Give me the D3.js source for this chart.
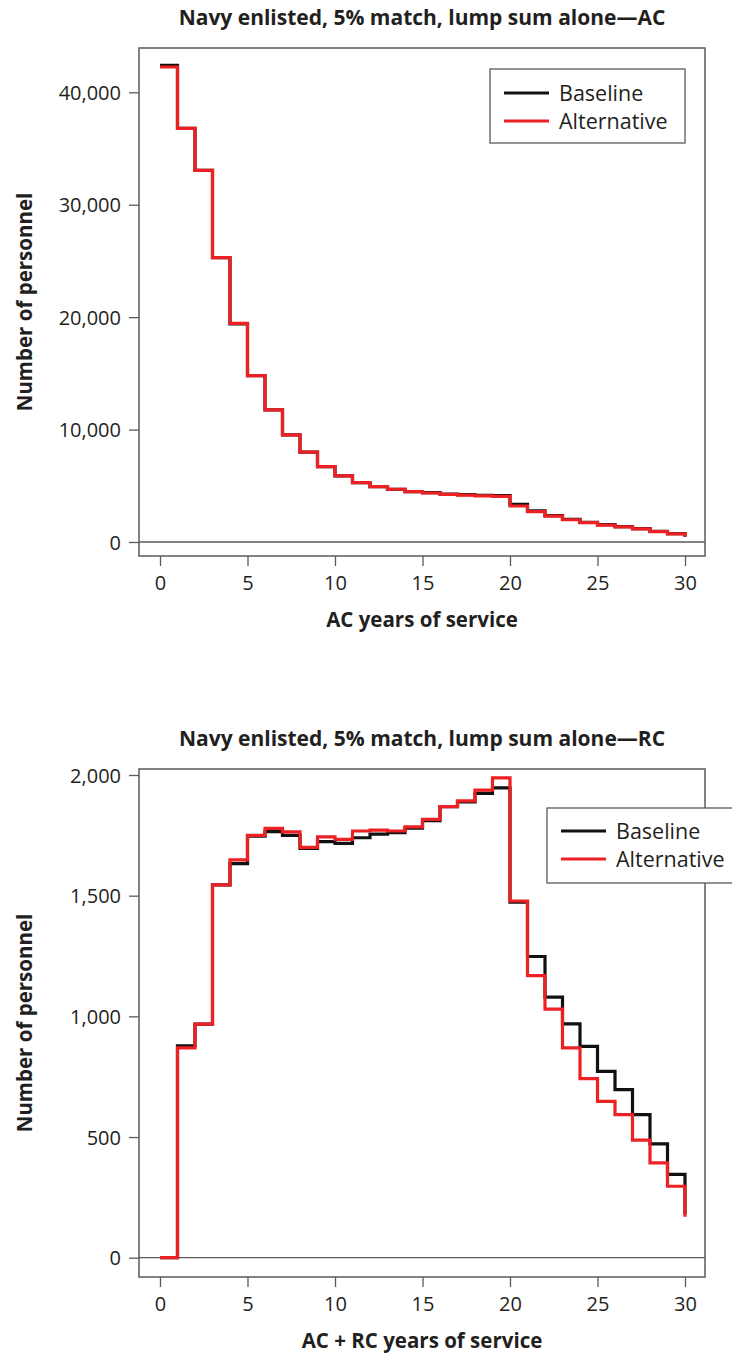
<!DOCTYPE html>
<html>
<head>
<meta charset="utf-8">
<script src="https://cdn.jsdelivr.net/npm/d3@7/dist/d3.min.js"></script>
<style>
  html, body { margin: 0; padding: 0; background: #fff; }
  svg { display: block; }
  text { fill: #231f20; font-family: "Open Sans", "Noto Sans", sans-serif; }
</style>
</head>
<body>
<svg id="chart" width="732" height="1357"></svg>
<script>
// ---------- data ----------
const years = [0,1,2,3,4,5,6,7,8,9,10,11,12,13,14,15,16,17,18,19,20,21,22,23,24,25,26,27,28,29,30];
const acBaseline = [42400,36800,33050,25300,19400,14800,11750,9530,7990,6700,5880,5280,4930,4690,4480,4390,4270,4210,4150,4120,3350,2760,2340,2020,1750,1540,1360,1190,950,740,470];
const acAlternative = [42250,36800,33050,25300,19450,14800,11750,9530,7990,6700,5880,5280,4930,4690,4480,4360,4230,4170,4100,4060,3200,2700,2300,1980,1720,1500,1340,1160,930,730,450];
const rcBaseline = [0,878,968,1545,1633,1747,1765,1750,1696,1724,1717,1740,1755,1761,1780,1811,1869,1889,1924,1947,1473,1248,1080,969,876,772,696,593,472,345,180];
const rcAlternative = [0,869,968,1545,1648,1750,1779,1764,1700,1744,1733,1768,1772,1768,1785,1816,1869,1893,1937,1988,1478,1169,1030,869,742,648,593,487,393,296,170];
const xTicks = [0,5,10,15,20,25,30];
const acYTicks = [0,10000,20000,30000,40000];
const rcYTicks = [0,500,1000,1500,2000];
const seriesNames = ["Baseline","Alternative"];
const titles = ["Navy enlisted, 5% match, lump sum alone\u2014AC","Navy enlisted, 5% match, lump sum alone\u2014RC"];
const xTitles = ["AC years of service","AC + RC years of service"];
const yTitle = "Number of personnel";

// ---------- styles ----------
const colors = ["#111111", "#ed2024"];
const gray = "#5a5a5a";
const svg = d3.select("#chart");
const fmt = d3.format(",");

function panel(cfg) {
  const {box, yRef, title, xTitle, series, yTicks, legend} = cfg;
  const x = d3.scaleLinear().domain([0, 30]).range([160, 685]);
  const y = d3.scaleLinear().domain(yRef.domain).range(yRef.range);
  const g = svg.append("g");

  // title
  g.append("text").attr("x", (box.l + box.r) / 2).attr("y", box.t - 23)
    .attr("text-anchor", "middle").attr("font-size", 21).attr("font-weight", 700)
    .text(title);

  // zero line
  g.append("line").attr("x1", box.l).attr("x2", box.r)
    .attr("y1", y(0)).attr("y2", y(0))
    .attr("stroke", gray).attr("stroke-width", 1.3);

  // series
  const line = d3.line().x((d, i) => x(years[i])).y(d => y(d)).curve(d3.curveStepAfter);
  series.forEach((s, k) => {
    g.append("path").datum(s).attr("d", line)
      .attr("fill", "none").attr("stroke", colors[k]).attr("stroke-width", 3.2)
      .attr("stroke-linejoin", "miter").attr("stroke-linecap", "butt");
  });

  // box
  g.append("rect").attr("x", box.l).attr("y", box.t)
    .attr("width", box.r - box.l).attr("height", box.b - box.t)
    .attr("fill", "none").attr("stroke", gray).attr("stroke-width", 1.5);

  // x axis
  const xa = g.append("g").attr("transform", `translate(0,${box.b})`)
    .call(d3.axisBottom(x).tickValues(xTicks).tickSize(10).tickFormat(d3.format("d")));
  xa.select(".domain").remove();
  xa.selectAll("line").attr("stroke", gray).attr("stroke-width", 1.3);
  xa.selectAll("text").attr("y", 34).attr("dy", 0).attr("font-size", 20)
    .attr("fill", "#231f20").attr("font-family", "'Open Sans', sans-serif");

  // y axis
  const ya = g.append("g").attr("transform", `translate(${box.l},0)`)
    .call(d3.axisLeft(y).tickValues(yTicks).tickSize(10).tickFormat(fmt));
  ya.select(".domain").remove();
  ya.selectAll("line").attr("stroke", gray).attr("stroke-width", 1.3);
  ya.selectAll("text").attr("x", -18).attr("dy", "0.35em").attr("font-size", 20)
    .attr("fill", "#231f20").attr("font-family", "'Open Sans', sans-serif");

  // axis titles
  g.append("text").attr("x", (box.l + box.r) / 2).attr("y", box.b + 71)
    .attr("text-anchor", "middle").attr("font-size", 20.5).attr("font-weight", 700)
    .text(xTitle);
  g.append("text").attr("transform", `translate(32,${(box.t + box.b) / 2}) rotate(-90)`)
    .attr("text-anchor", "middle").attr("font-size", 20.5).attr("font-weight", 700)
    .text(yTitle);

  // legend
  const lg = g.append("g");
  lg.append("rect").attr("x", legend.x).attr("y", legend.y)
    .attr("width", legend.w).attr("height", legend.h)
    .attr("fill", "#fff").attr("stroke", gray).attr("stroke-width", 1.3);
  seriesNames.forEach((name, k) => {
    const yy = legend.y + legend.row0 + k * legend.dy;
    lg.append("line").attr("x1", legend.x + 14).attr("x2", legend.x + 59)
      .attr("y1", yy).attr("y2", yy).attr("stroke", colors[k]).attr("stroke-width", 3);
    lg.append("text").attr("x", legend.x + 69).attr("y", yy).attr("dy", "0.35em")
      .attr("font-size", 21.5).text(name);
  });
}

panel({
  box: {l: 139, r: 705, t: 48, b: 556},
  yRef: {domain: [0, 40000], range: [542, 92.3]},
  title: titles[0], xTitle: xTitles[0],
  series: [acBaseline, acAlternative], yTicks: acYTicks,
  legend: {x: 490, y: 69, w: 195, h: 74, row0: 24, dy: 28}
});

panel({
  box: {l: 139, r: 705, t: 769, b: 1277},
  yRef: {domain: [0, 2000], range: [1257.7, 775]},
  title: titles[1], xTitle: xTitles[1],
  series: [rcBaseline, rcAlternative], yTicks: rcYTicks,
  legend: {x: 547, y: 808, w: 200, h: 75, row0: 23, dy: 28}
});
</script>
</body>
</html>
